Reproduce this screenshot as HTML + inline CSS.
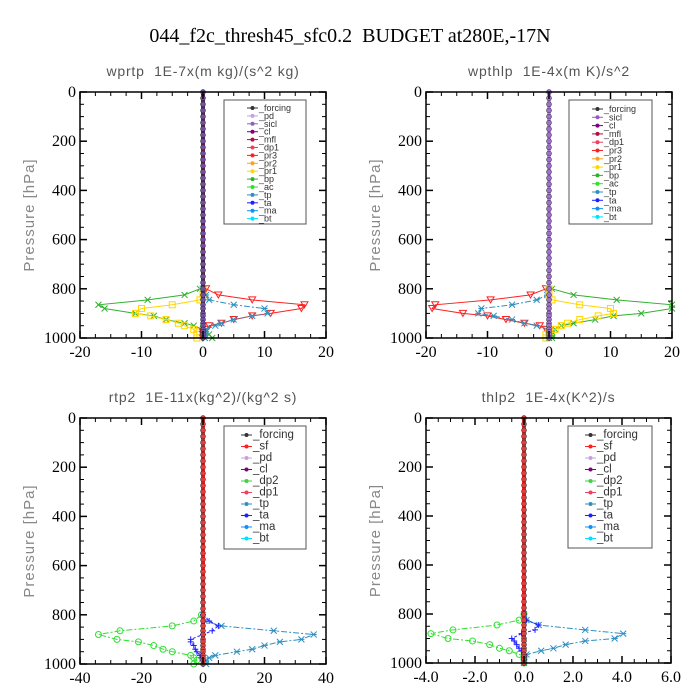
<!DOCTYPE html>
<html><head><meta charset="utf-8">
<style>
body{margin:0;background:#fff;}
svg{display:block;}
text{white-space:pre;}
.tk{font-family:"Liberation Serif",serif;font-size:16px;fill:#000;}
.pt{font-family:"Liberation Sans",sans-serif;font-size:14px;fill:#555;letter-spacing:0.8px;}
.yl{font-family:"Liberation Sans",sans-serif;font-size:15px;fill:#888;letter-spacing:1px;}
.lg{font-family:"Liberation Sans",sans-serif;font-size:9px;fill:#333;}
.lg2{font-family:"Liberation Sans",sans-serif;font-size:11.5px;fill:#333;}
</style></head>
<body>
<svg id="root" width="700" height="700" xmlns="http://www.w3.org/2000/svg">
<rect width="700" height="700" fill="#fff"/>
<text x="350" y="42" text-anchor="middle" font-family="Liberation Serif,serif" font-size="20">044_f2c_thresh45_sfc0.2  BUDGET at280E,-17N</text>
</svg>
<script>
// shared pressure levels
const upperP = [0,25,50,75,100,125,150,175,200,225,250,275,300,325,350,375,400,425,450,475,500,525,550,575,600,625,650,675,700,725,750,775];
const lowP = [800,825,845,865,880,900,910,925,940,950,965,975,985,1000];
const pTicks = [0,200,400,600,800,1000];

// panel 1: wprtp
const p1XTicks = [-20,-10,0,10,20];
const p1Legend = ["_forcing","_pd","_sicl","_cl","_mfl","_dp1","_pr3","_pr2","_pr1","_bp","_ac","_tp","_ta","_ma","_bt"];
const p1_bp  = [-0.5,-3,-9,-17,-16,-11,-8,-6,-3,-1.5,0,0.5,1,1.5];
const p1_pr1 = [0,0,-0.5,-5,-10,-11,-8.5,-6,-4,-3,-1.5,-1,-1,-1];
const p1_pr3 = [0.5,2.5,8,16.5,16,11,8,5,3,1,0.5,0,0,0];
const p1_tp  = [0,0.5,1,5,10,10.5,8,5,3,2,0.5,0.3,0.3,0.3];

// panel 2: wpthlp
const p2XTicks = [-20,-10,0,10,20];
const p2Legend = ["_forcing","_sicl","_cl","_mfl","_dp1","_pr3","_pr2","_pr1","_bp","_ac","_tp","_ta","_ma","_bt"];
const p2_pr3 = [-0.5,-3,-9.5,-18.5,-19,-14,-10,-7,-4,-1.5,-0.5,0,0,0];
const p2_tp  = [0,-0.3,-2,-6,-11,-11.5,-9,-6,-4,-2,0,0,0,0];
const p2_bp  = [0.5,4,11,20,20,15,10.5,7.5,4,2,1,0.5,0.5,0.5];
const p2_pr1 = [0,0,0.5,5,10,10.5,8,5,3,2,1,0,-0.5,-0.5];

// panel 3: rtp2
const p3XTicks = [-40,-20,0,20,40];
const p3Legend = ["_forcing","_sf","_pd","_cl","_dp2","_dp1","_tp","_ta","_ma","_bt"];
const p3_dp1 = [-0.5,-3,-10,-27,-34,-28,-21,-16,-13,-10,-4,-3,-2,-3];
const p3_tp  = [0,0.5,6,23,36,32,25,20,16,11,4,2,1,1];
const p3_ta  = [0,2,5,3,0,-4,-4,-3,-2.5,-2,-1,-0.5,0,0];

// panel 4: thlp2
const p4XTicks = [-4,-2,0,2,4,6];
const p4XLabels = ["-4.0","-2.0","0.0","2.0","4.0","6.0"];
const p4Legend = ["_forcing","_sf","_pd","_cl","_dp2","_dp1","_tp","_ta","_ma","_bt"];
const p4_dp1 = [0,-0.2,-1.1,-2.9,-3.8,-3.1,-2.1,-1.4,-1,-0.6,-0.2,0,0,0];
const p4_tp  = [0,0.1,0.6,2.5,4.05,3.7,2.5,1.7,1.2,0.7,0.1,0,0,0];
const p4_ta  = [0,0.1,0.6,0.45,-0.1,-0.5,-0.4,-0.3,-0.2,-0.1,0,0,0,0];

const NS="http://www.w3.org/2000/svg";
const root=document.getElementById('root');
function mk(tag,attrs,parent){const e=document.createElementNS(NS,tag);for(const k in attrs)e.setAttribute(k,attrs[k]);(parent||root).appendChild(e);return e;}

const legendColors={"_forcing":"#333","_pd":"#c8a0e0","_sicl":"#9060c0","_cl":"#800080","_mfl":"#b01040","_dp1":"#f04060","_pr3":"#ff2020","_pr2":"#ffa020","_pr1":"#ffd700","_bp":"#30b030","_ac":"#30e030","_tp":"#3090c0","_ta":"#2020ff","_ma":"#1090ff","_bt":"#00e0ff","_sf":"#ff2020","_dp2":"#40d040"};

function marker(g,shape,x,y,c){
  if(shape==='x'){mk('path',{d:`M${x-3},${y-3}L${x+3},${y+3}M${x-3},${y+3}L${x+3},${y-3}`,stroke:c,'stroke-width':1,fill:'none'},g);}
  else if(shape==='+'){mk('path',{d:`M${x-3},${y}L${x+3},${y}M${x},${y-3}L${x},${y+3}`,stroke:c,'stroke-width':1,fill:'none'},g);}
  else if(shape==='sq'){mk('rect',{x:x-3,y:y-3,width:6,height:6,stroke:c,fill:'none','stroke-width':1},g);}
  else if(shape==='tri'){mk('path',{d:`M${x-3.5},${y-3}L${x+3.5},${y-3}L${x},${y+3}Z`,stroke:c,fill:'none','stroke-width':1},g);}
  else if(shape==='o'){mk('circle',{cx:x,cy:y,r:3,stroke:c,fill:'none','stroke-width':1},g);}
  else {mk('path',{d:`M${x-3},${y-3}L${x+3},${y+3}M${x-3},${y+3}L${x+3},${y-3}M${x-3},${y}L${x+3},${y}`,stroke:c,'stroke-width':1,fill:'none'},g);}
}

function panel(cfg){
  const {x0,x1,y0,y1,xmin,xmax,xTicks,xLabels,title,name,legend,lg,series,zeroColor,zeroMarker}=cfg;
  const g=mk('g',{});
  
  
  const X=v=>x0+(v-xmin)/(xmax-xmin)*(x1-x0);
  const Y=p=>y0+p/1000*(y1-y0);
  const t=mk('text',{x:(x0+x1)/2,y:y0-16,'text-anchor':'middle',class:'pt'},g);
  t.textContent=title;
  
  
  series.forEach(s=>{
    const sg=mk('g',{},g);
    
    
    const pts=s.vals.map((v,i)=>X(v).toFixed(1)+','+Y(lowP[i]).toFixed(1)).join(' ');
    mk('polyline',{points:pts,fill:'none',stroke:s.color,'stroke-width':1,'stroke-dasharray':s.dash||''},sg);
    s.vals.forEach((v,i)=>marker(sg,s.m,X(v),Y(lowP[i]),s.color));
  });
  const zg=mk('g',{},g);
  
  
  mk('line',{x1:X(0),x2:X(0),y1:Y(0),y2:Y(1000),stroke:zeroColor,'stroke-width':4},zg);
  upperP.concat(lowP).forEach(p=>{mk('circle',{cx:X(0),cy:Y(p),r:2.5,fill:zeroMarker,stroke:'#222','stroke-width':0.5},zg);});
  const fr=mk('rect',{x:x0,y:y0,width:x1-x0,height:y1-y0,fill:'none',stroke:'#000','stroke-width':1.5},g);
  
  
  for(let p=0;p<=1000;p+=50){
    const major=p%200===0, L=major?7:4;
    mk('line',{x1:x0,x2:x0+L,y1:Y(p),y2:Y(p),stroke:'#000','stroke-width':major?1.5:1},g);
    mk('line',{x1:x1,x2:x1-L,y1:Y(p),y2:Y(p),stroke:'#000','stroke-width':major?1.5:1},g);
  }
  pTicks.forEach(p=>{const tt=mk('text',{x:x0-4,y:Y(p)+5,'text-anchor':'end',class:'tk'},g);tt.textContent=p;
    
    });
  const step=(xTicks[1]-xTicks[0])/4;
  for(let v=xmin;v<=xmax+1e-9;v+=step){
    const major=xTicks.some(t=>Math.abs(t-v)<1e-9), L=major?7:4;
    mk('line',{x1:X(v),x2:X(v),y1:y1,y2:y1-L,stroke:'#000','stroke-width':major?1.5:1},g);
    mk('line',{x1:X(v),x2:X(v),y1:y0,y2:y0+L,stroke:'#000','stroke-width':major?1.5:1},g);
  }
  xTicks.forEach((v,i)=>{const tt=mk('text',{x:X(v),y:y1+19,'text-anchor':'middle',class:'tk'},g);tt.textContent=xLabels?xLabels[i]:v;
    
    });
  const yl=mk('text',{x:0,y:0,'text-anchor':'middle',class:'yl',transform:`translate(${x0-46},${(y0+y1)/2}) rotate(-90)`},g);
  yl.textContent='Pressure [hPa]';
  
  
  const lgG=mk('g',{},g);
  
  
  mk('rect',{x:lg.x,y:lg.y,width:lg.w,height:lg.h,fill:'#fff',stroke:'#555','stroke-width':1},lgG);
  legend.forEach((lab,i)=>{
    const e=mk('g',{},lgG);
    
    
    const yy=lg.y+lg.first+i*lg.sp, c=legendColors[lab]||'#333';
    mk('line',{x1:lg.x+lg.lx,x2:lg.x+lg.lx+11,y1:yy,y2:yy,stroke:c,'stroke-width':1},e);
    mk('circle',{cx:lg.x+lg.lx+5.5,cy:yy,r:2,fill:c},e);
    const tt=mk('text',{x:lg.x+lg.lx+12,y:yy+3,class:lg.cls},e);tt.textContent=lab;
  });
}

panel({x0:80,x1:326,y0:92,y1:338,xmin:-20,xmax:20,xTicks:p1XTicks,title:'wprtp  1E-7x(m kg)/(s^2 kg)',name:'panel-wprtp',legend:p1Legend,
  lg:{x:224,y:100,w:82,h:124,first:8,sp:7.9,lx:23,cls:'lg'},zeroColor:'#6a2050',zeroMarker:'#7050a0',
  series:[{label:'_bp',vals:p1_bp,color:'#30b030',m:'x'},{label:'_pr1',vals:p1_pr1,color:'#ffd700',m:'sq'},{label:'_pr3',vals:p1_pr3,color:'#ff2020',m:'tri'},{label:'_tp',vals:p1_tp,color:'#3090c0',m:'*',dash:'6,2,2,2'}]});
panel({x0:426,x1:672,y0:92,y1:338,xmin:-20,xmax:20,xTicks:p2XTicks,title:'wpthlp  1E-4x(m K)/s^2',name:'panel-wpthlp',legend:p2Legend,
  lg:{x:569,y:100,w:83,h:124,first:9,sp:8.3,lx:23,cls:'lg'},zeroColor:'#c0a0e0',zeroMarker:'#a070d0',
  series:[{label:'_pr3',vals:p2_pr3,color:'#ff2020',m:'tri'},{label:'_tp',vals:p2_tp,color:'#3090c0',m:'*',dash:'6,2,2,2'},{label:'_bp',vals:p2_bp,color:'#30b030',m:'x'},{label:'_pr1',vals:p2_pr1,color:'#ffd700',m:'sq'}]});
panel({x0:80,x1:326,y0:418,y1:664,xmin:-40,xmax:40,xTicks:p3XTicks,title:'rtp2  1E-11x(kg^2)/(kg^2 s)',name:'panel-rtp2',legend:p3Legend,
  lg:{x:224,y:426,w:82,h:123,first:9,sp:11.5,lx:17,cls:'lg2'},zeroColor:'#ff2020',zeroMarker:'#e04040',
  series:[{label:'_dp1',vals:p3_dp1,color:'#30e030',m:'o',dash:'6,2,2,2'},{label:'_tp',vals:p3_tp,color:'#3090c0',m:'*',dash:'6,2,2,2'},{label:'_ta',vals:p3_ta,color:'#2020ff',m:'+',dash:'3,2'}]});
panel({x0:426,x1:671,y0:418,y1:663,xmin:-4,xmax:6,xTicks:p4XTicks,xLabels:p4XLabels,title:'thlp2  1E-4x(K^2)/s',name:'panel-thlp2',legend:p4Legend,
  lg:{x:568,y:426,w:84,h:122,first:9,sp:11.5,lx:17,cls:'lg2'},zeroColor:'#ff2020',zeroMarker:'#e04040',
  series:[{label:'_dp1',vals:p4_dp1,color:'#30e030',m:'o',dash:'6,2,2,2'},{label:'_tp',vals:p4_tp,color:'#3090c0',m:'*',dash:'6,2,2,2'},{label:'_ta',vals:p4_ta,color:'#2020ff',m:'+',dash:'3,2'}]});
</script>
</body></html>
